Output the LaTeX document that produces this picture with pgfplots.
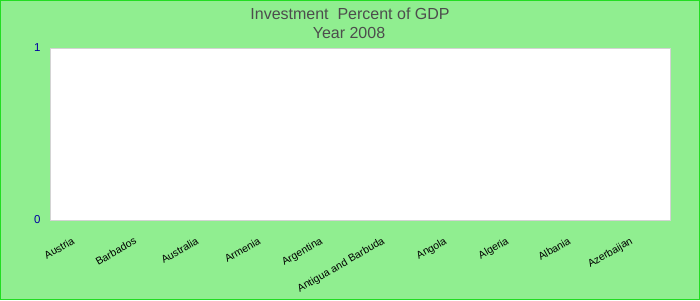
\documentclass[border=0pt]{standalone}
\usepackage{fontspec}
\setmainfont{Liberation Sans}
\usepackage{pgfplots}
\pgfplotsset{compat=1.18}
\definecolor{bg}{HTML}{90EE90}
\definecolor{frame}{HTML}{22DD22}
\definecolor{titlegray}{HTML}{4D4D4D}
\definecolor{tickblue}{HTML}{0000A0}
\definecolor{plotframe}{HTML}{D3D3D3}
\begin{document}
\begin{tikzpicture}[x=1pt,y=1pt]
\fill[bg] (0,0) rectangle (700,300);
\draw[frame, line width=1pt] (0.5,0.5) rectangle (699.5,299.5);
\node[titlegray, font=\fontsize{16}{19}\selectfont] at (350,286) {Investment\ \ Percent of GDP};
\node[titlegray, font=\fontsize{16}{19}\selectfont] at (349,267) {Year 2008};
\begin{axis}[
  at={(50pt,80pt)}, anchor=south west,
  width=620pt, height=172pt, scale only axis,
  xmin=-0.5, xmax=9.5, ymin=0, ymax=1,
  ytick={0,1},
  xtick={0,...,9},
  xticklabels={Austria,Barbados,Australia,Armenia,Argentina,Antigua and Barbuda,Angola,Algeria,Albania,Azerbaijan},
  axis background/.style={fill=white},
  axis line style={draw=plotframe, line width=1pt},
  tick style={draw=none},
  yticklabel style={text=tickblue, font=\fontsize{11.5}{13}\selectfont, xshift=-6pt},
  /pgf/number format/assume math mode=true,
  xticklabel style={text=black, rotate=30, anchor=north east, font=\fontsize{10.5}{12}\selectfont, xshift=-13pt, yshift=-6pt},
  clip=false,
]
\addplot[ybar, draw=none, fill=none] coordinates {(0,0) (1,0) (2,0) (3,0) (4,0) (5,0) (6,0) (7,0) (8,0) (9,0)};
\end{axis}
\end{tikzpicture}
\end{document}
